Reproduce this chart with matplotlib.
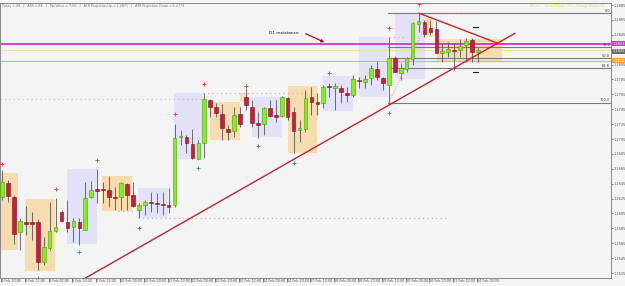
import numpy as np
import matplotlib
matplotlib.use("Agg")
import matplotlib.pyplot as plt

# H4 candles
opens = [1.2627, 1.2646, 1.2627, 1.2580, 1.2594, 1.2593, 1.2593, 1.2540, 1.2558, 1.2582,
         1.2607, 1.2594, 1.2587, 1.2594, 1.2583, 1.2627, 1.2638, 1.2638, 1.2637, 1.2627,
         1.2627, 1.2645, 1.2630, 1.2610, 1.2617, 1.2621, 1.2619, 1.2618, 1.2617, 1.2617,
         1.2708, 1.2708, 1.2698, 1.2678, 1.2700, 1.2758, 1.2748, 1.2739, 1.2719, 1.2716,
         1.2739, 1.2762, 1.2748, 1.2727, 1.2725, 1.2747, 1.2737, 1.2736, 1.2760, 1.2741,
         1.2717, 1.2719, 1.2762, 1.2755, 1.2754, 1.2776, 1.2774, 1.2774, 1.2767, 1.2764,
         1.2784, 1.2782, 1.2787, 1.2799, 1.2787, 1.2778, 1.2814, 1.2794, 1.2799, 1.2813,
         1.2860, 1.2862, 1.2854, 1.2853, 1.2821, 1.2822, 1.2825, 1.2825, 1.2831, 1.2838,
         1.2822]
highs = [1.2664, 1.2650, 1.2630, 1.2599, 1.2615, 1.2607, 1.2597, 1.2573, 1.2621, 1.2626,
         1.2610, 1.2623, 1.2599, 1.2599, 1.2647, 1.2649, 1.2665, 1.2647, 1.2655, 1.2640,
         1.2647, 1.2646, 1.2647, 1.2619, 1.2623, 1.2634, 1.2633, 1.2634, 1.2639, 1.2725,
         1.2717, 1.2711, 1.2719, 1.2704, 1.2767, 1.2759, 1.2754, 1.2752, 1.2724, 1.2748,
         1.2748, 1.2774, 1.2758, 1.2741, 1.2748, 1.2758, 1.2758, 1.2763, 1.2762, 1.2748,
         1.2731, 1.2771, 1.2775, 1.2767, 1.2777, 1.2780, 1.2780, 1.2778, 1.2775, 1.2791,
         1.2788, 1.2791, 1.2804, 1.2810, 1.2788, 1.2842, 1.2817, 1.2807, 1.2815, 1.2862,
         1.2874, 1.2865, 1.2865, 1.2864, 1.2834, 1.2835, 1.2834, 1.2839, 1.2841, 1.2841,
         1.2829]
lows = [1.2623, 1.2621, 1.2564, 1.2556, 1.2576, 1.2570, 1.2529, 1.2536, 1.2556, 1.2580,
        1.2594, 1.2580, 1.2567, 1.2563, 1.2583, 1.2626, 1.2619, 1.2619, 1.2614, 1.2610,
        1.2610, 1.2610, 1.2614, 1.2599, 1.2603, 1.2607, 1.2606, 1.2603, 1.2606, 1.2614,
        1.2697, 1.2686, 1.2678, 1.2677, 1.2680, 1.2735, 1.2735, 1.2704, 1.2704, 1.2708,
        1.2721, 1.2744, 1.2721, 1.2707, 1.2711, 1.2734, 1.2728, 1.2734, 1.2731, 1.2686,
        1.2701, 1.2715, 1.2737, 1.2737, 1.2747, 1.2762, 1.2744, 1.2754, 1.2755, 1.2762,
        1.2774, 1.2774, 1.2778, 1.2784, 1.2771, 1.2754, 1.2795, 1.2784, 1.2795, 1.2805,
        1.2849, 1.2842, 1.2845, 1.2820, 1.2809, 1.2815, 1.2798, 1.2815, 1.2809, 1.2809,
        1.2809]
closes = [1.2647, 1.2629, 1.2578, 1.2595, 1.2591, 1.2591, 1.2540, 1.2560, 1.2582, 1.2587,
          1.2595, 1.2586, 1.2595, 1.2585, 1.2626, 1.2637, 1.2635, 1.2636, 1.2627, 1.2626,
          1.2646, 1.2630, 1.2615, 1.2617, 1.2621, 1.2619, 1.2618, 1.2617, 1.2614, 1.2707,
          1.2709, 1.2700, 1.2680, 1.2700, 1.2759, 1.2748, 1.2740, 1.2720, 1.2715, 1.2737,
          1.2725, 1.2751, 1.2727, 1.2724, 1.2747, 1.2736, 1.2735, 1.2762, 1.2735, 1.2716,
          1.2720, 1.2760, 1.2755, 1.2752, 1.2775, 1.2775, 1.2776, 1.2768, 1.2764, 1.2786,
          1.2783, 1.2786, 1.2800, 1.2788, 1.2780, 1.2814, 1.2795, 1.2800, 1.2814, 1.2861,
          1.2864, 1.2846, 1.2849, 1.2821, 1.2823, 1.2826, 1.2823, 1.2830, 1.2837, 1.2822,
          1.2825]

time_labels = ["4 Feb 20:00", "5 Feb 12:00", "6 Feb 04:00", "6 Feb 20:00", "7 Feb 12:00",
               "10 Feb 04:00", "10 Feb 20:00", "11 Feb 12:00", "12 Feb 04:00", "12 Feb 20:00",
               "13 Feb 12:00", "14 Feb 04:00", "14 Feb 20:00", "17 Feb 12:00", "18 Feb 04:00",
               "18 Feb 20:00", "19 Feb 12:00", "20 Feb 04:00", "20 Feb 20:00", "21 Feb 12:00",
               "24 Feb 04:00"]
price_ticks = np.arange(1.2525, 1.28851, 0.002)

# session boxes: start bar, end bar, low, high
orange_boxes = [(-0.34, 2.7, 1.2556, 1.2660), (3.9, 8.9, 1.2528, 1.2625),
                (16.8, 21.9, 1.2609, 1.2655), (35.0, 40.0, 1.2704, 1.2755),
                (40.0, 41.3, 1.2755, 1.2767), (48.1, 52.9, 1.2686, 1.2776),
                (71.1, 72.4, 1.2842, 1.2868), (73.1, 84.0, 1.2810, 1.2839)]
lavender_boxes = [(10.9, 16.0, 1.2564, 1.2665), (22.9, 27.9, 1.2599, 1.2639),
                  (28.9, 33.8, 1.2678, 1.2767), (42.0, 47.1, 1.2708, 1.2762),
                  (53.9, 59.0, 1.2743, 1.2790), (60.0, 64.9, 1.2762, 1.2842),
                  (66.0, 71.1, 1.2786, 1.2874)]

# fractal markers
up_frac_x = [0, 9, 16, 29, 34, 41, 55, 65, 70]
up_frac_y = [1.2672, 1.2638, 1.2677, 1.2739, 1.2779, 1.2776, 1.2794, 1.2854, 1.2886]
dn_frac_x = [6, 13, 23, 33, 43, 49, 65]
dn_frac_y = [1.2519, 1.2553, 1.2586, 1.2666, 1.2695, 1.2673, 1.2740]

# fibonacci retracement
fib_start = 64.8
fib_high = 1.2874
fib_low = 1.2754
fib_levels = [0.0, 38.2, 50.0, 61.8, 100.0]

# lines
d1_resistance = 1.2833
pivot_line = 1.2825
orange_line = 1.2810
trend_x = [13.95, 86.2]
trend_y = [1.2518, 1.2847]
down_x = [70.1, 83.2]
down_y = [1.2874, 1.2834]
fib_diag_x = [65.0, 71.6]
fib_diag_y = [1.2754, 1.2865]

fig = plt.figure(figsize=(6.25, 2.86), dpi=100, facecolor="#f4f4f4")
ax = fig.add_axes([0, 0.0265, 0.9776, 0.963])
ax.set_facecolor("#f4f4f4")
ax.set_xlim(-0.34, 102.35)
ax.set_ylim(1.25178, 1.28877)

for x0, x1, lo, hi in orange_boxes:
    ax.fill_between([x0, x1], lo, hi, color="#f7dcb0", lw=0, zorder=1)
for x0, x1, lo, hi in lavender_boxes:
    ax.fill_between([x0, x1], lo, hi, color="#e3e3f7", lw=0, zorder=1)

# horizontal levels
ax.axhline(d1_resistance, color="#d435d4", lw=1.3, zorder=2)
ax.axhline(pivot_line, color="#f0e2a8", lw=0.8, zorder=2)
ax.axhline(orange_line, color="#e6b25a", lw=0.8, zorder=2)

rng = fib_high - fib_low
for lv in fib_levels:
    yv = fib_high - rng * lv / 100
    ax.plot([fib_start, 102.35], [yv, yv], color="#7a7a7a", lw=0.8, zorder=2)
    ax.text(102.2, yv + 0.00005, "%.1f" % lv, fontsize=2.5, color="#333333",
            ha="right", va="bottom", zorder=6)

# dotted fractal levels
ax.plot([-0.34, 33.8], [1.2759, 1.2759], ls=(0, (1, 3)), color="#e9a3a3", lw=0.8, zorder=2)
ax.plot([33.8, 51.3], [1.2767, 1.2767], ls=(0, (1, 3)), color="#e9a3a3", lw=0.8, zorder=2)
ax.plot([65.0, 68.0], [1.2842, 1.2842], ls=(0, (1, 3)), color="#e9a3a3", lw=0.8, zorder=2)
ax.plot([70.3, 80.0], [1.2874, 1.2874], ls=(0, (1, 3)), color="#c45a5a", lw=0.8, zorder=2)
ax.plot([22.9, 75.0], [1.2599, 1.2599], ls=(0, (1, 3)), color="#9ab6d8", lw=0.8, zorder=2)
ax.plot([19.5, 22.5], [1.2609, 1.2609], ls=(0, (1, 3)), color="#9ab6d8", lw=0.8, zorder=2)

# candles
x = np.arange(len(opens))
o = np.array(opens)
c = np.array(closes)
bull = c >= o
ax.vlines(x, lows, highs, color="#555555", lw=0.6, zorder=3)
body_lo = np.minimum(o, c)
body_h = np.maximum(np.abs(c - o), 0.00006)
ax.bar(x[bull], body_h[bull], bottom=body_lo[bull], width=0.62,
       color="#84f01a", edgecolor="#4a9a10", lw=0.4, zorder=4)
ax.bar(x[~bull], body_h[~bull], bottom=body_lo[~bull], width=0.62,
       color="#d01c3c", edgecolor="#7a1020", lw=0.4, zorder=4)

# trend lines
ax.plot(trend_x, trend_y, color="#c0262c", lw=1.0, zorder=5)
ax.plot(down_x, down_y, color="#c0262c", lw=1.0, zorder=5)
ax.plot(fib_diag_x, fib_diag_y, color="#e58a8a", lw=0.7, ls=(0, (1, 1.5)), zorder=5)

# fractal arrows
ax.plot(up_frac_x, up_frac_y, ls="none", marker="+", ms=2.5, mew=0.7, color="#d9534f", zorder=5)
ax.plot(dn_frac_x, dn_frac_y, ls="none", marker="+", ms=2.5, mew=0.7, color="#5b84c8", zorder=5)

# short black marks near the last bars
ax.plot([79.2, 80.0], [1.2855, 1.2855], color="#222222", lw=0.8, zorder=5)
ax.plot([79.2, 80.0], [1.2795, 1.2795], color="#222222", lw=0.8, zorder=5)

# annotations
ax.text(0.004, 0.996, "Today = 28   |   ATR = 68   |   Pip Value = 7.50   |   "
        "ATR Projection Up = 1.2871   |   ATR Projection Down = 1.2779",
        transform=ax.transAxes, fontsize=2.3, color="#777777", ha="left", va="top")
ax.text(0.99, 0.996, "Alerts:   Email Mode Off    Popup Mode Off", transform=ax.transAxes,
        fontsize=2.5, color="#e6df66", ha="right", va="top")
ax.text(44.8, 1.2847, "D1 resistance", fontsize=3.2, color="#111111", va="center")
ax.annotate("", xy=(54.6, 1.28335), xytext=(50.6, 1.2848),
            arrowprops=dict(arrowstyle="-|>", color="#a01820", lw=0.9,
                            mutation_scale=4))

# axes
ax.yaxis.tick_right()
ax.set_yticks(price_ticks)
ax.set_yticklabels(["" if abs(p - pivot_line) < 1e-5 else "%.4f" % p for p in price_ticks])
ax.tick_params(axis="y", labelsize=2.5, length=1.2, width=0.5, pad=0.4, colors="#555555")
ax.set_xticks(np.arange(len(time_labels)) * 4 - 0.17)
ax.set_xticklabels(time_labels)
ax.tick_params(axis="x", labelsize=2.4, length=3, width=0.5, pad=-2.6, colors="#555555")
for lab in ax.get_xticklabels():
    lab.set_horizontalalignment("left")
    lab.set_x(lab.get_position()[0])
for s in ax.spines.values():
    s.set_color("#888888")
    s.set_linewidth(0.7)

tr = ax.get_yaxis_transform()
box_kw = dict(transform=tr, fontsize=2.5, color="white", va="center", ha="left")
ax.text(1.003, d1_resistance, "1.2833",
        bbox=dict(boxstyle="square,pad=0.15", fc="#d435d4", ec="none"), **box_kw)
ax.text(1.003, pivot_line - 0.00018, "1.2825",
        bbox=dict(boxstyle="square,pad=0.15", fc="#6d6d6d", ec="none"), **box_kw)
ax.text(1.003, orange_line, "1.2810",
        bbox=dict(boxstyle="square,pad=0.15", fc="#e6a53a", ec="none"), **box_kw)

fig.savefig("out.png", dpi=100, facecolor=fig.get_facecolor())
